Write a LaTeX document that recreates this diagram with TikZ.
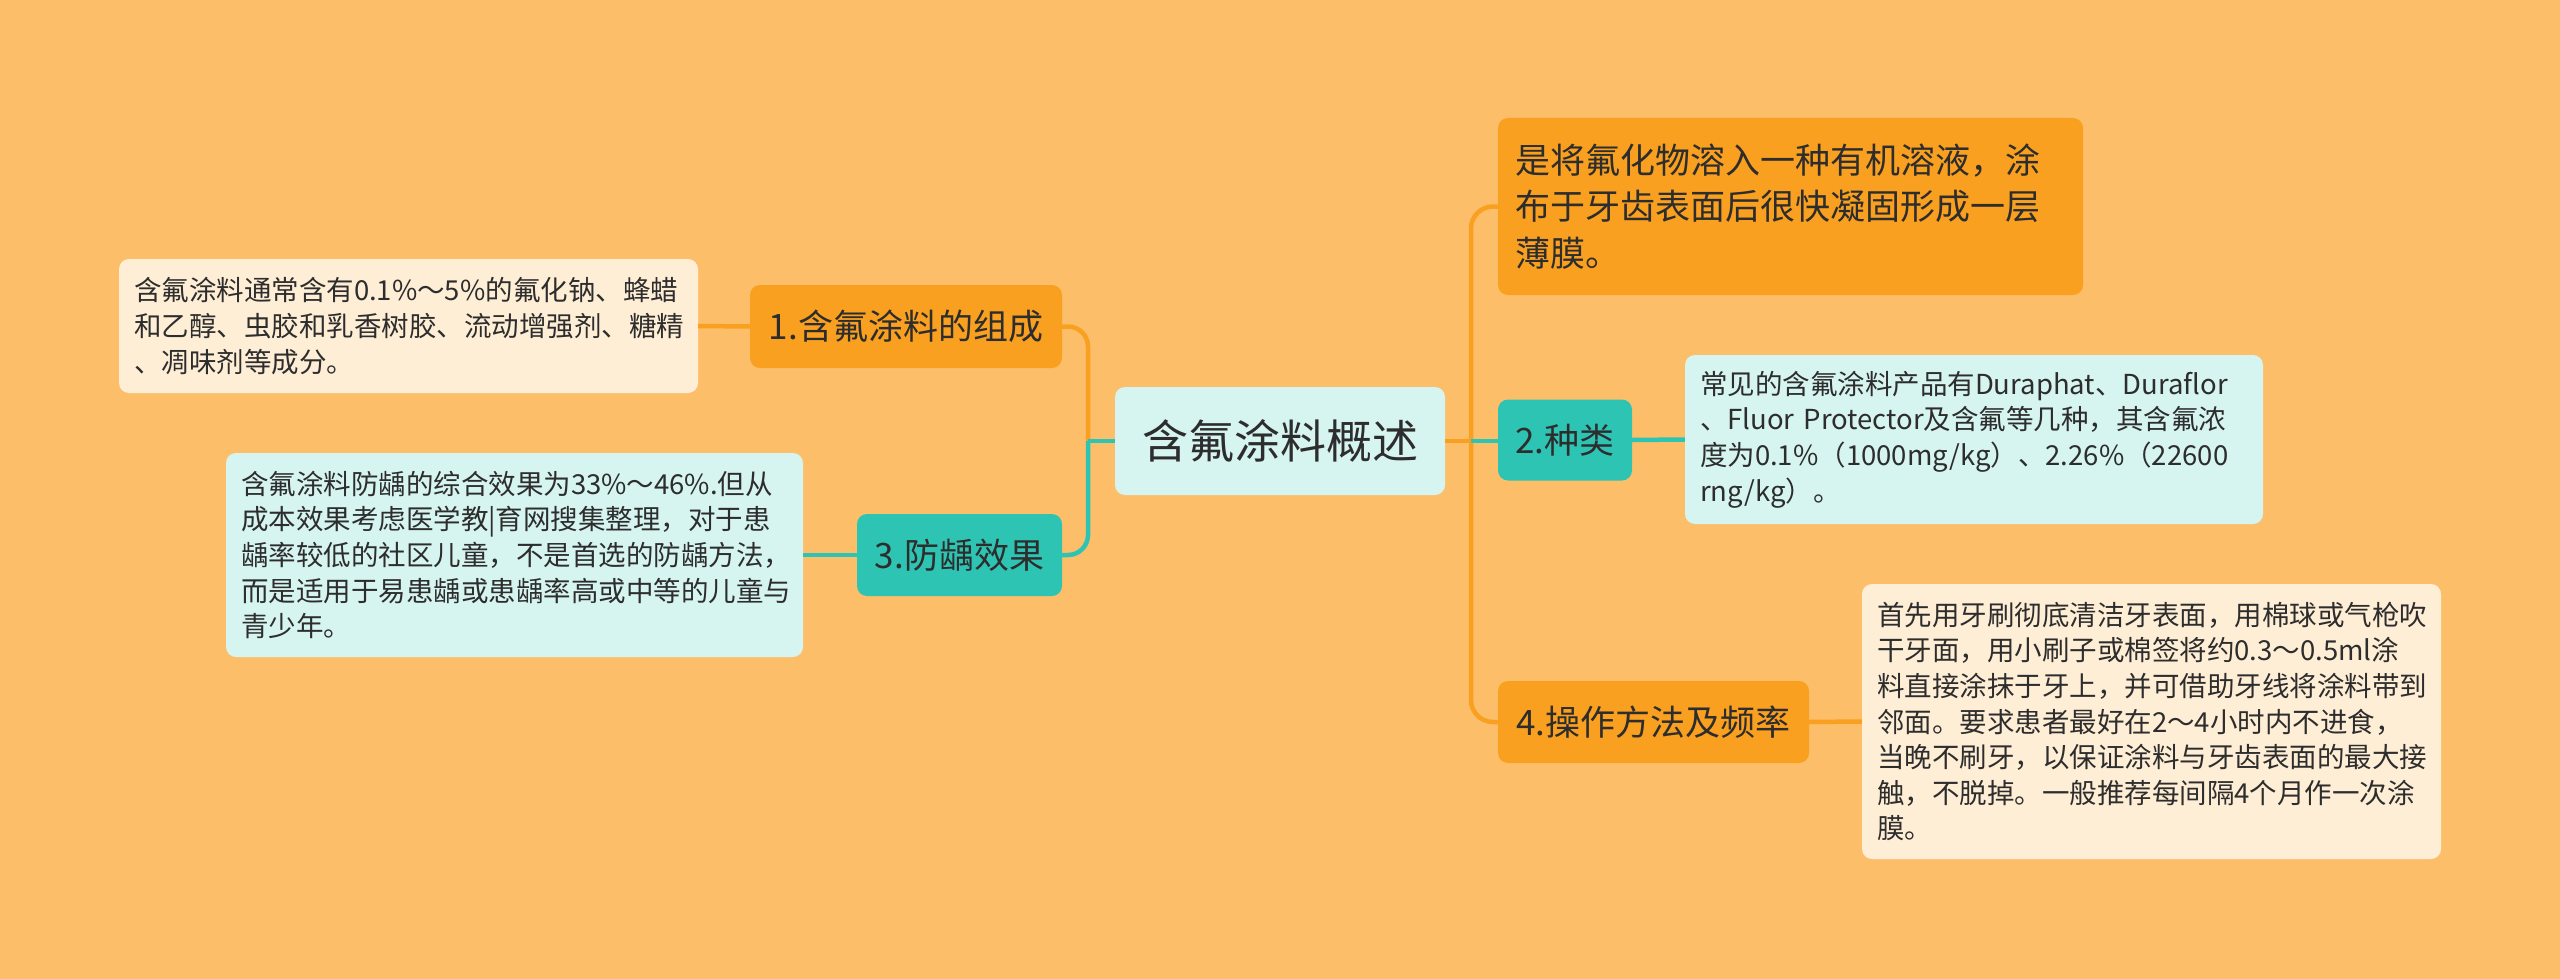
\documentclass[tikz,border=0pt]{standalone}
\usepackage{fontspec}
\setmainfont{Noto Sans CJK SC}
\usetikzlibrary{positioning}
\definecolor{BgOrange}{RGB}{253,190,106}
\definecolor{NodeOrange}{RGB}{250,160,32}
\definecolor{NodeTeal}{RGB}{46,196,180}
\definecolor{PaleCyan}{RGB}{214,244,240}
\definecolor{PaleCream}{RGB}{255,238,214}
\definecolor{TextGray}{RGB}{45,45,45}

\begin{document}
\begin{tikzpicture}[x=1pt, y=-1pt,
    topic/.style={rounded corners=10pt, text=TextGray, inner sep=0pt, align=center,
      font=\fontsize{35}{46.5}\selectfont},
    detail/.style={rounded corners=10pt, text=TextGray, inner xsep=15pt, inner ysep=0pt,
      align=left, font=\fontsize{27.5}{35.6}\selectfont},
    orangeline/.style={NodeOrange, line width=4.5pt},
    tealline/.style={NodeTeal, line width=4.5pt}]
    % Background
    \fill[BgOrange] (0,0) rectangle (2560,979);
    \useasboundingbox (0,0) rectangle (2560,979);

    % Central topic
    \node[topic, fill=PaleCyan, minimum width=330pt, minimum height=108pt,
      font=\fontsize{46}{50}\selectfont] (root) at (1280,441) {含氟涂料概述};

    % Left branches
    \node[topic, fill=NodeOrange, minimum width=312pt, minimum height=83pt] (compo) at (906,326.5) {1.含氟涂料的组成};
    \node[topic, fill=NodeTeal, minimum width=205pt, minimum height=82pt] (effect) at (959.5,555) {3.防龋效果};

    \node[detail, fill=PaleCream, text width=549pt, minimum height=134pt] (compotext) at (408.5,326) {含氟涂料通常含有0.1\%～5\%的氟化钠、蜂蜡\\和乙醇、虫胶和乳香树胶、流动增强剂、糖精\\、凋味剂等成分。};
    \node[detail, fill=PaleCyan, text width=547pt, minimum height=204pt] (effecttext) at (514.5,555) {含氟涂料防龋的综合效果为33\%～46\%.但从\\成本效果考虑医学教|育网搜集整理，对于患\\龋率较低的社区儿童，不是首选的防龋方法，\\而是适用于易患龋或患龋率高或中等的儿童与\\青少年。};

    % Right branches
    \node[topic, fill=NodeOrange, minimum width=585pt, minimum height=177pt, inner xsep=17pt,
      text width=551pt, align=left] (coat) at (1790.5,206.5) {是将氟化物溶入一种有机溶液，涂\\布于牙齿表面后很快凝固形成一层\\薄膜。};
    \node[topic, fill=NodeTeal, minimum width=134pt, minimum height=81pt] (kinds) at (1565,440) {2.种类};
    \node[topic, fill=NodeOrange, minimum width=311pt, minimum height=82pt] (usage) at (1653.5,722) {4.操作方法及频率};

    \node[detail, fill=PaleCyan, text width=548pt, minimum height=169pt] (kindstext) at (1974,439.5) {常见的含氟涂料产品有Duraphat、Duraflor\\、Fluor~Protector及含氟等几种，其含氟浓\\度为0.1\%（1000mg/kg）、2.26\%（22600\\rng/kg）。};
    \node[detail, fill=PaleCream, text width=549pt, minimum height=275pt] (usagetext) at (2151.5,721.5) {首先用牙刷彻底清洁牙表面，用棉球或气枪吹\\干牙面，用小刷子或棉签将约0.3～0.5ml涂\\料直接涂抹于牙上，并可借助牙线将涂料带到\\邻面。要求患者最好在2～4小时内不进食，\\当晚不刷牙，以保证涂料与牙齿表面的最大接\\触，不脱掉。一般推荐每间隔4个月作一次涂\\膜。};

    % Connectors
    \coordinate (ljoin) at (1088,441);
    \coordinate (rjoin) at (1471,441);
    \draw[orangeline, rounded corners=20pt] (compo.east) -| (ljoin);
    \draw[tealline, rounded corners=20pt] (effect.east) -| (ljoin);
    \draw[tealline] (root.west) -- (ljoin);
    \draw[orangeline] (root.east) -- (rjoin);
    \draw[orangeline, rounded corners=22pt] (rjoin) |- (coat.west);
    \draw[orangeline, rounded corners=22pt] (rjoin) |- (usage.west);
    \draw[tealline] (rjoin) -- (kinds.west |- rjoin);

    \draw[orangeline] (compo.west) -- (compotext.east);
    \draw[tealline] (effect.west) -- (effecttext.east);
    \draw[tealline] (kinds.east) -- (kindstext.west);
    \draw[orangeline] (usage.east) -- (usagetext.west);
  \end{tikzpicture}
\end{document}
